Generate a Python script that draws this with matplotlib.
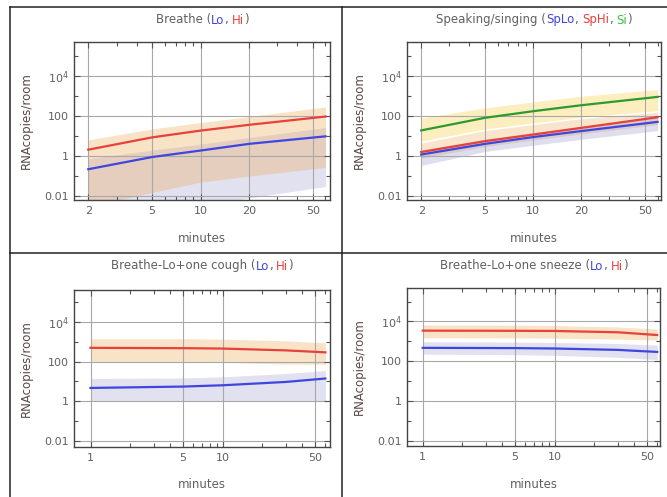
import numpy as np
import matplotlib.pyplot as plt
from matplotlib.lines import Line2D
from matplotlib.ticker import FixedLocator, FixedFormatter, NullFormatter

# time points (minutes)
t_top = [2, 5, 10, 20, 60]
t_bot = [1, 5, 10, 30, 60]

# Breathe (Lo, Hi): central line + band (upper, lower)
breathe_hi = [2.1, 8.7, 19, 37, 96]
breathe_hi_up = [6.5, 23, 48, 96, 290]
breathe_hi_dn = [0.003, 0.015, 0.05, 0.1, 0.27]
breathe_lo = [0.22, 0.9, 1.9, 4.1, 9.8]
breathe_lo_up = [0.74, 2, 4, 8.5, 27]
breathe_lo_dn = [0.0005, 0.001, 0.003, 0.008, 0.03]

# Speaking/singing (SpLo, SpHi, Si)
sp_si = [19.4, 83, 178, 355, 930]
sp_si_up = [80, 260, 520, 1000, 2150]
sp_si_dn = [5.6, 23, 46, 89, 190]
sp_hi = [1.6, 5.6, 12, 26, 89]
sp_hi_up = [4.5, 19, 38, 75, 160]
sp_hi_dn = [0.8, 3, 6.5, 13, 38]
sp_lo = [1.2, 4.1, 9, 18, 52]
sp_lo_up = [2, 7, 15, 30, 90]
sp_lo_dn = [0.34, 1.7, 3.5, 7, 19]

# Breathe-Lo + one cough
cough_hi = [490, 470, 450, 365, 290]
cough_hi_up = [1400, 1400, 1350, 1100, 880]
cough_hi_dn = [93, 93, 90, 75, 73]
cough_lo = [4.7, 5.5, 6.4, 9.4, 14]
cough_lo_up = [14, 15, 17, 25, 35]
cough_lo_dn = [1, 1, 1, 1, 1.05]

# Breathe-Lo + one sneeze
sneeze_hi = [3460, 3400, 3340, 2870, 2090]
sneeze_hi_up = [6700, 6500, 6200, 5300, 4200]
sneeze_hi_dn = [1520, 1500, 1450, 1300, 1170]
sneeze_lo = [475, 460, 440, 375, 296]
sneeze_lo_up = [950, 920, 880, 780, 650]
sneeze_lo_dn = [230, 215, 200, 160, 122]

xticks_top = [2, 5, 10, 20, 50]
xticks_bot = [1, 5, 10, 50]
yticks = [0.01, 1, 100, 1e4]
ytick_labels = ['0.01', '1', '100', '$10^4$']

RED = '#e8403a'
BLUE = '#3f46e0'
GREEN = '#2e9a2e'
TAN = '#eeaa55'
LAV = '#6a6ab8'
YEL = '#fbe08a'
GREY = '#606060'

W, H = 667, 497
fig = plt.figure(figsize=(W / 100, H / 100), dpi=100)
renderer = fig.canvas.get_renderer()


def px_axes(l, t, r, b):
    return fig.add_axes([l / W, 1 - b / H, (r - l) / W, (b - t) / H])


def style(ax, xlim, ylim, xt):
    ax.set_xscale('log')
    ax.set_yscale('log')
    ax.set_xlim(*xlim)
    ax.set_ylim(*ylim)
    ax.xaxis.set_major_locator(FixedLocator(xt))
    ax.xaxis.set_major_formatter(FixedFormatter([str(v) for v in xt]))
    ax.xaxis.set_minor_locator(FixedLocator(
        [m * d for d in (1, 10) for m in range(1, 10) if m * d not in xt]))
    ax.xaxis.set_minor_formatter(NullFormatter())
    ax.yaxis.set_major_locator(FixedLocator(yticks))
    ax.yaxis.set_major_formatter(FixedFormatter(ytick_labels))
    ax.yaxis.set_minor_locator(FixedLocator([0.1, 10, 1000, 1e5]))
    ax.yaxis.set_minor_formatter(NullFormatter())
    ax.tick_params(which='both', direction='in', top=True, right=True,
                   color='#555555', labelcolor=GREY, labelsize=8, pad=4,
                   width=0.8)
    ax.tick_params(which='major', length=4)
    ax.tick_params(which='minor', length=3)
    ax.grid(True, which='major', color='#a8a8a8', lw=0.8)
    for s in ax.spines.values():
        s.set_color('#444444')
        s.set_linewidth(1.0)
    ax.set_xlabel('minutes', fontsize=8.5, color=GREY)
    ax.set_ylabel('RNAcopies/room', fontsize=8.5, color='#5a4848')
    ax.xaxis.label.set_va('center')
    ax.yaxis.label.set_va('center')
    h = ax.get_position().height * H
    w = ax.get_position().width * W
    ax.xaxis.set_label_coords(0.5, -38 / h)
    ax.yaxis.set_label_coords(-48 / w, 0.5)


def band(ax, t, up, dn, color, alpha):
    ax.fill_between(t, dn, up, color=color, alpha=alpha, lw=0)


def text_width(s):
    t = fig.text(0, 0, s, fontsize=8.5)
    w = t.get_window_extent(renderer).width
    t.remove()
    return w


# title made of coloured pieces; each piece is right-aligned where it ends
# inside the full string (pieces never end with a space)
def title(ax, parts, y_px):
    pos = ax.get_position()
    cx = (pos.x0 + pos.width / 2) * W
    full = ''.join(s for s, c in parts)
    x0 = cx - text_width(full) / 2
    yb = 1 - (y_px + 3.5) / H
    prefix = ''
    for s, c in parts:
        prefix += s
        xe = x0 + text_width(prefix)
        fig.text(xe / W, yb, s.lstrip(), color=c, fontsize=8.5,
                 ha='right', va='baseline')


# Breathe
ax1 = px_axes(74, 42, 330, 200)
band(ax1, t_top, breathe_lo_up, breathe_lo_dn, LAV, 0.2)
band(ax1, t_top, breathe_hi_up, breathe_hi_dn, TAN, 0.33)
ax1.plot(t_top, breathe_lo, color=BLUE, lw=1.6)
ax1.plot(t_top, breathe_hi, color=RED, lw=1.6)
style(ax1, (1.63, 64), (10 ** -2.2, 10 ** 5.72), xticks_top)
title(ax1, [('Breathe (', GREY), ('Lo', BLUE), (',', GREY), (' Hi', RED),
            (')', GREY)], 20)

# Speaking/singing
ax2 = px_axes(407, 42, 661, 200)
band(ax2, t_top, sp_si_up, sp_si_dn, YEL, 0.55)
band(ax2, t_top, sp_hi_up, sp_hi_dn, TAN, 0.3)
band(ax2, t_top, sp_lo_up, sp_lo_dn, LAV, 0.22)
ax2.plot(t_top, sp_lo, color=BLUE, lw=1.6)
ax2.plot(t_top, sp_hi, color=RED, lw=1.6)
ax2.plot(t_top, sp_si, color=GREEN, lw=1.6)
style(ax2, (1.63, 63), (10 ** -2.2, 10 ** 5.72), xticks_top)
title(ax2, [('Speaking/singing (', GREY), ('SpLo', BLUE), (',', GREY),
            (' SpHi', RED), (',', GREY), (' Si', '#3cc03c'), (')', GREY)], 20)

# Cough
ax3 = px_axes(74, 290, 330, 447)
band(ax3, t_bot, cough_lo_up, cough_lo_dn, LAV, 0.2)
band(ax3, t_bot, cough_hi_up, cough_hi_dn, TAN, 0.33)
ax3.plot(t_bot, cough_lo, color=BLUE, lw=1.6)
ax3.plot(t_bot, cough_hi, color=RED, lw=1.6)
style(ax3, (0.75, 65), (10 ** -2.3, 10 ** 5.6), xticks_bot)
title(ax3, [('Breathe-Lo+one cough (', GREY), ('Lo', BLUE), (',', GREY),
            (' Hi', RED), (')', GREY)], 266)

# Sneeze
ax4 = px_axes(407, 288, 660, 446)
band(ax4, t_bot, sneeze_lo_up, sneeze_lo_dn, LAV, 0.2)
band(ax4, t_bot, sneeze_hi_up, sneeze_hi_dn, TAN, 0.33)
ax4.plot(t_bot, sneeze_lo, color=BLUE, lw=1.6)
ax4.plot(t_bot, sneeze_hi, color=RED, lw=1.6)
style(ax4, (0.76, 63), (10 ** -2.25, 10 ** 5.68), xticks_bot)
title(ax4, [('Breathe-Lo+one sneeze (', GREY), ('Lo', BLUE), (',', GREY),
            (' Hi', RED), (')', GREY)], 266)

# panel frame lines
for xs, ys in [((10, 10), (7, H)), ((10, W), (7, 7)),
               ((342, 342), (7, H)), ((10, W), (253, 253))]:
    fig.add_artist(Line2D([x / W for x in xs], [1 - y / H for y in ys],
                          transform=fig.transFigure, color='#222222', lw=1.1))

fig.savefig('out.png', dpi=100)
